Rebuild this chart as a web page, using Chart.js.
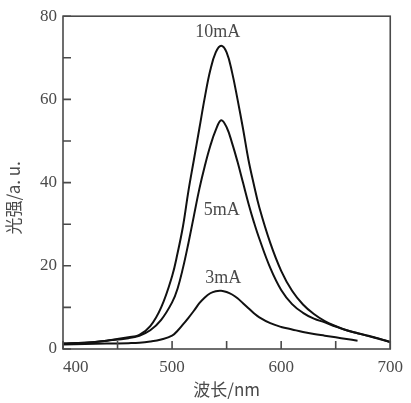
<!DOCTYPE html>
<html>
<head>
<meta charset="utf-8">
<script src="https://cdn.jsdelivr.net/npm/chart.js@4.4.1/dist/chart.umd.min.js"></script>
<style>
  html, body { margin: 0; padding: 0; background: #fff; }
  #wrap { width: 411px; height: 403px; }
</style>
</head>
<body>
<div id="wrap"><canvas id="chart1" width="411" height="403"></canvas></div>
<script>
// wavelength (nm)
var wavelength = [400, 420, 440, 460, 470, 480, 490, 500, 505, 510, 515, 520, 525, 530, 535, 540, 545, 550, 555, 560, 565, 570, 575, 580, 590, 600, 610, 620, 630, 640, 650, 660, 670, 680, 690, 700];

// light intensity (a.u.) for each current
var i10mA = [1.3, 1.5, 2.0, 2.8, 3.4, 5.5, 10, 17.5, 23, 29.5, 38, 45.5, 53, 60.5, 67, 71.3, 72.9, 71.3, 66.5, 60, 53, 45.5, 39.5, 34, 25.5, 18.8, 14, 10.7, 8.4, 6.7, 5.5, 4.5, 3.8, 3.2, 2.5, 1.7];
var i5mA = [1.3, 1.5, 2.0, 2.6, 3.2, 4.5, 7, 11.2, 14.5, 19.5, 25.5, 32, 38.5, 44, 48.8, 52.6, 55, 53.3, 49.5, 45, 40, 35, 30.5, 26.5, 19.5, 14.2, 10.8, 8.7, 7.3, 6.4, 5.4, 4.5, 3.8, 3.1, 2.4, 1.7];
var i3mA = [1.1, 1.2, 1.3, 1.4, 1.5, 1.8, 2.3, 3.2, 4.4, 5.9, 7.5, 9.2, 11, 12.4, 13.4, 13.9, 14, 13.7, 13.1, 12.2, 11, 9.8, 8.6, 7.6, 6.2, 5.3, 4.7, 4.1, 3.6, 3.2, 2.8, 2.4, 2.0, null, null, null];

// axis ticks
var xTicks = [400, 500, 600, 700];
var xTickMarks = [400, 450, 500, 550, 600, 650, 700];
var yTicks = [0, 20, 40, 60, 80];
var yTickMarks = [0, 10, 20, 30, 40, 50, 60, 70, 80];

// curve labels, in data units
var curveNames = ['10mA', '5mA', '3mA'];
var curveNameX = [541.8, 545.5, 547];
var curveNameY = [76.2, 33.3, 16.9];

var serif = '"Liberation Serif", "DejaVu Serif", serif';
var textColor = '#4a4a4a';

function pts(ys) {
    var out = [];
    for (var i = 0; i < wavelength.length; i++) {
        if (ys[i] !== null) out.push({ x: wavelength[i], y: ys[i] });
    }
    return out;
}

// box, inward ticks and the curve labels
var framePlugin = {
    id: 'frame',
    afterDatasetsDraw: function (chart) {
        var c = chart.ctx, a = chart.chartArea;
        var xs = chart.scales.x, ys = chart.scales.y;
        c.save();
        c.strokeStyle = '#4a4a4a';
        c.lineWidth = 1.6;
        c.strokeRect(a.left, a.top, a.right - a.left, a.bottom - a.top);
        c.beginPath();
        xTickMarks.forEach(function (v) {
            var px = xs.getPixelForValue(v);
            c.moveTo(px, a.bottom);
            c.lineTo(px, a.bottom - 8);
        });
        yTickMarks.forEach(function (v) {
            var py = ys.getPixelForValue(v);
            c.moveTo(a.left, py);
            c.lineTo(a.left + 8, py);
        });
        c.stroke();

        c.fillStyle = textColor;
        c.font = '18px ' + serif;
        c.textAlign = 'center';
        c.textBaseline = 'middle';
        for (var i = 0; i < curveNames.length; i++) {
            c.fillText(curveNames[i], xs.getPixelForValue(curveNameX[i]), ys.getPixelForValue(curveNameY[i]));
        }
        c.restore();
    }
};

function line(data) {
    return {
        data: pts(data),
        borderColor: '#111',
        borderWidth: 2,
        pointRadius: 0,
        fill: false,
        tension: 0.4
    };
}

document.addEventListener('DOMContentLoaded', function () {
    var ctx = document.getElementById('chart1').getContext('2d');
    new Chart(ctx, {
        type: 'line',
        data: {
            datasets: [line(i10mA), line(i5mA), line(i3mA)]
        },
        options: {
            responsive: false,
            animation: false,
            layout: { padding: { top: 12, right: 17, bottom: 0, left: 0 } },
            plugins: { legend: { display: false }, tooltip: { enabled: false } },
            scales: {
                x: {
                    type: 'linear',
                    min: 400,
                    max: 700,
                    afterBuildTicks: function (s) { s.ticks = xTicks.map(function (v) { return { value: v }; }); },
                    afterFit: function (s) { s.height = 54; },
                    grid: { display: false, drawTicks: false },
                    border: { display: false },
                    ticks: {
                        padding: 8,
                        color: textColor,
                        font: { family: serif, size: 17 },
                        maxRotation: 0,
                        callback: function (v) { return v === 400 ? '\u2007\u2007\u2007400' : String(v); }
                    },
                    title: {
                        display: true,
                        text: '波长/nm',
                        color: textColor,
                        font: { family: '"Noto Sans CJK SC", serif', size: 17 },
                        padding: { top: 0, bottom: 3 }
                    }
                },
                y: {
                    min: 0,
                    max: 80,
                    afterBuildTicks: function (s) { s.ticks = yTicks.map(function (v) { return { value: v }; }); },
                    afterFit: function (s) { s.width = 63; },
                    grid: { display: false, drawTicks: false },
                    border: { display: false },
                    ticks: {
                        padding: 6,
                        color: textColor,
                        font: { family: serif, size: 17 }
                    },
                    title: {
                        display: true,
                        text: '光强/a. u.        ',
                        color: textColor,
                        font: { family: '"Noto Sans CJK SC", serif', size: 17 },
                        padding: { top: 3, bottom: 0 }
                    }
                }
            }
        },
        plugins: [framePlugin]
    });
});
</script>
</body>
</html>
